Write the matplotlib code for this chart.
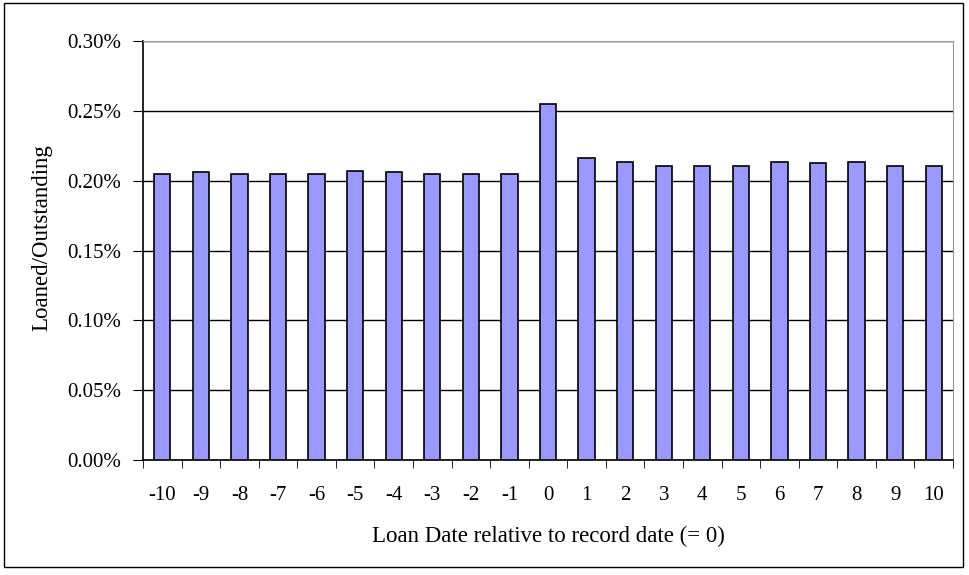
import numpy as np
import matplotlib.pyplot as plt
from matplotlib.patches import Rectangle

# Loaned/Outstanding (%) by loan date relative to record date
days = list(range(-10, 11))
ratio = [0.2047, 0.2061, 0.2047, 0.2047, 0.2047, 0.2071, 0.2061, 0.2047, 0.2047, 0.2047,
         0.2547,
         0.2160, 0.2134, 0.2108, 0.2108, 0.2108, 0.2137, 0.2125, 0.2137, 0.2108, 0.2108]
yticks = [0.00, 0.05, 0.10, 0.15, 0.20, 0.25, 0.30]

plt.rcParams['font.family'] = ['Liberation Serif', 'DejaVu Serif']

fig = plt.figure(figsize=(9.69, 5.75), dpi=100)
ax = fig.add_axes([143 / 969, 1 - 460 / 575, 810 / 969, 419 / 575])

x = np.arange(len(days))
ax.bar(x, ratio, width=0.42, color='#9999FF', edgecolor='black', linewidth=1.2, zorder=3)

ax.set_xlim(-0.5, len(days) - 0.5)
ax.set_ylim(0, 0.30)
ax.set_yticks(yticks)
ax.set_yticklabels(['%.2f%%' % v for v in yticks], fontsize=15)
ax.yaxis.grid(True, color='black', linewidth=1, zorder=0)

ax.set_xticks(x)
ax.set_xticklabels([str(d) for d in days], fontsize=15)
ax.set_xticks(np.arange(-0.5, len(days)), minor=True)
ax.tick_params(axis='x', which='major', length=0, pad=19)
ax.tick_params(axis='x', which='minor', length=6, direction='out', color='black')
ax.tick_params(axis='y', length=7, direction='out', color='black', pad=9)

for side in ['top', 'right']:
    ax.spines[side].set_color('#999999')
for side in ['left', 'bottom']:
    ax.spines[side].set_color('black')
    ax.spines[side].set_linewidth(1.2)

ax.set_xlabel('Loan Date relative to record date (= 0)', fontsize=16.5, labelpad=15)
ax.set_ylabel('Loaned/Outstanding', fontsize=16.5)
ax.yaxis.set_label_coords(-0.112, 0.53)

# outer chart border
fig.patches.append(Rectangle((4 / 969, 1 - 567 / 575), 959 / 969, 564 / 575,
                             transform=fig.transFigure, fill=False,
                             edgecolor='black', linewidth=1))

fig.savefig('out.png', dpi=100)
